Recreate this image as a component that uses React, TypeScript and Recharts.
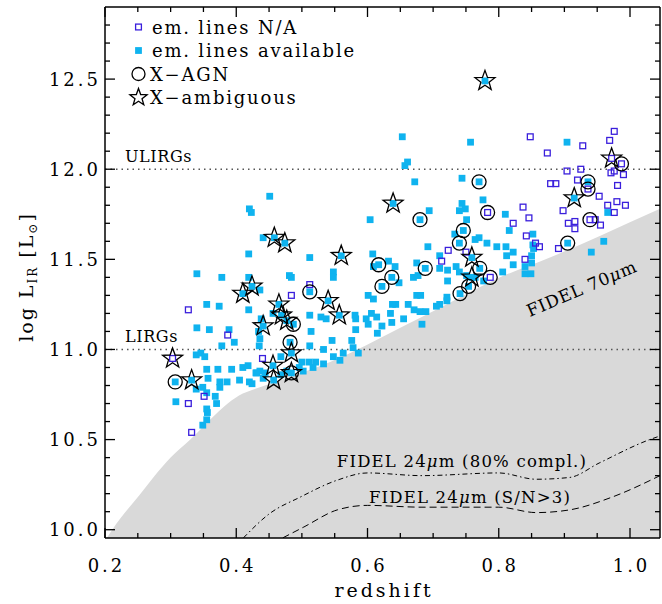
import React from 'react';
import { ComposedChart, Scatter, Area, Line, XAxis, YAxis } from 'recharts';

// ---------- data (redshift z, log L_IR) ----------
const emLinesAvailable: number[][] = [
  [0.307, 10.82], [0.332, 10.83],
  [0.339, 10.97], [0.346, 10.98], [0.352, 10.96], [0.378, 11.02], [0.397, 11.04],
  [0.355, 10.89], [0.357, 10.84], [0.372, 10.89], [0.393, 10.89], [0.41, 10.9], [0.418, 10.91], [0.431, 10.87],
  [0.349, 10.79], [0.339, 10.78], [0.355, 10.76], [0.375, 10.82], [0.386, 10.82], [0.375, 10.79], [0.405, 10.83], [0.42, 10.82], [0.368, 10.74],
  [0.308, 10.71],
  [0.37, 10.7], [0.355, 10.67], [0.356, 10.65], [0.355, 10.61], [0.349, 10.58],
  [0.34, 11.12], [0.359, 11.11], [0.389, 11.11],
  [0.441, 11.13], [0.477, 11.16], [0.434, 11.1],
  [0.436, 11.06], [0.435, 11.02],
  [0.482, 11.04], [0.484, 10.98],
  [0.514, 11.1], [0.512, 11.02], [0.533, 11.0],
  [0.468, 10.96],
  [0.456, 10.91], [0.457, 10.83], [0.484, 10.87],
  [0.5, 10.93], [0.511, 10.93], [0.521, 10.93], [0.533, 10.92],
  [0.502, 10.88],
  [0.436, 10.88], [0.444, 10.87], [0.43, 10.87],
  [0.424, 10.81], [0.441, 10.84], [0.468, 10.86], [0.477, 10.88],
  [0.451, 11.85], [0.42, 11.78], [0.423, 11.76],
  [0.458, 11.62], [0.474, 11.59], [0.441, 11.62],
  [0.419, 11.53], [0.512, 11.51],
  [0.34, 11.42], [0.378, 11.4], [0.419, 11.4], [0.481, 11.41], [0.484, 11.4],
  [0.424, 11.35], [0.41, 11.31], [0.436, 11.33],
  [0.512, 11.32],
  [0.355, 11.25], [0.374, 11.24],
  [0.465, 11.25], [0.419, 11.22],
  [0.512, 11.19], [0.529, 11.18], [0.537, 11.17],
  [0.438, 11.17], [0.469, 11.19], [0.54, 11.27],
  [0.601, 11.3], [0.609, 11.28],
  [0.557, 11.19], [0.456, 11.2], [0.487, 11.14],
  [0.581, 11.19], [0.582, 11.17], [0.598, 11.17], [0.606, 11.2], [0.614, 11.18],
  [0.582, 11.11], [0.615, 11.09], [0.601, 11.14],
  [0.546, 11.05], [0.576, 11.05],
  [0.578, 11.01], [0.586, 10.98], [0.563, 10.98],
  [0.548, 10.96], [0.558, 10.94],
  [0.496, 10.9], [0.517, 10.9],
  [0.653, 12.18], [0.757, 12.15],
  [0.661, 12.04], [0.657, 12.02],
  [0.672, 11.93], [0.77, 11.93], [0.744, 11.95],
  [0.776, 11.83], [0.744, 11.81], [0.749, 11.78], [0.74, 11.77], [0.751, 11.72],
  [0.639, 11.81], [0.694, 11.77], [0.68, 11.72], [0.604, 11.72],
  [0.746, 11.66], [0.74, 11.59],
  [0.733, 11.64], [0.764, 11.61], [0.77, 11.62], [0.782, 11.59], [0.797, 11.57],
  [0.692, 11.57], [0.71, 11.52], [0.759, 11.51], [0.608, 11.53], [0.56, 11.52],
  [0.617, 11.47], [0.637, 11.4], [0.622, 11.35],
  [0.632, 11.49], [0.642, 11.46], [0.609, 11.46],
  [0.675, 11.48], [0.688, 11.45],
  [0.548, 11.43], [0.548, 11.4],
  [0.67, 11.4], [0.677, 11.41],
  [0.71, 11.45], [0.722, 11.44], [0.735, 11.46],
  [0.74, 11.43], [0.751, 11.41], [0.764, 11.4],
  [0.771, 11.45], [0.759, 11.4],
  [0.722, 11.38], [0.648, 11.37],
  [0.754, 11.35], [0.741, 11.31],
  [0.777, 11.38],
  [0.721, 11.29], [0.721, 11.27], [0.71, 11.25], [0.705, 11.24],
  [0.675, 11.3], [0.681, 11.3],
  [0.643, 11.25], [0.638, 11.25], [0.662, 11.25],
  [0.671, 11.22], [0.68, 11.21], [0.689, 11.21],
  [0.635, 11.2], [0.655, 11.17], [0.637, 11.15],
  [0.683, 11.14], [0.622, 11.13],
  [0.904, 12.15], [0.936, 11.93], [0.915, 11.84], [0.966, 11.76], [0.81, 11.75], [0.816, 11.66],
  [0.852, 11.64], [0.96, 11.6], [0.905, 11.59], [0.852, 11.58], [0.853, 11.56], [0.941, 11.54],
  [0.811, 11.57], [0.812, 11.52], [0.822, 11.54], [0.822, 11.47], [0.85, 11.52], [0.85, 11.48],
  [0.84, 11.46], [0.84, 11.42], [0.849, 11.42], [0.806, 11.43],
  [0.779, 12.49],
];

const emLinesNA: number[][] = [
  [0.303, 10.95], [0.327, 10.7], [0.351, 10.74], [0.332, 10.54], [0.387, 11.08], [0.44, 10.95],
  [0.512, 11.36], [0.484, 11.3], [0.327, 11.22],
  [0.783, 11.76], [0.723, 11.55], [0.713, 11.49], [0.75, 11.54],
  [0.848, 12.18], [0.928, 12.13], [0.874, 12.09], [0.976, 12.21], [0.969, 12.16],
  [0.972, 12.06], [0.987, 12.03],
  [0.976, 11.99], [0.971, 11.98], [0.99, 11.97],
  [0.904, 11.99], [0.925, 12.0],
  [0.92, 11.94], [0.936, 11.89],
  [0.879, 11.92], [0.887, 11.92],
  [0.981, 11.91], [0.953, 11.85],
  [0.98, 11.82], [0.966, 11.8], [0.993, 11.8],
  [0.837, 11.79], [0.898, 11.77], [0.976, 11.76], [0.846, 11.73],
  [0.939, 11.72], [0.947, 11.72],
  [0.916, 11.71], [0.906, 11.7], [0.955, 11.69], [0.822, 11.7], [0.916, 11.67], [0.842, 11.63],
  [0.856, 11.59], [0.862, 11.57], [0.891, 11.56],
  [0.84, 11.5], [0.787, 11.4],
];

const xAGN: number[][] = [
  [0.307, 10.82], [0.482, 11.04], [0.484, 10.87], [0.487, 11.14], [0.512, 11.32], [0.77, 11.93],
  [0.783, 11.76], [0.68, 11.72], [0.746, 11.66], [0.74, 11.59], [0.617, 11.47], [0.637, 11.4],
  [0.622, 11.35], [0.688, 11.45], [0.771, 11.45], [0.787, 11.4], [0.754, 11.35], [0.741, 11.31],
  [0.987, 12.03], [0.936, 11.93], [0.936, 11.89], [0.939, 11.72], [0.905, 11.59],
];

const xAmbiguous: number[][] = [
  [0.303, 10.95], [0.332, 10.83], [0.441, 11.13], [0.477, 11.16], [0.484, 10.98], [0.456, 10.91],
  [0.457, 10.83], [0.484, 10.87], [0.458, 11.62], [0.474, 11.59], [0.424, 11.35], [0.41, 11.31],
  [0.465, 11.25], [0.469, 11.19], [0.54, 11.27], [0.557, 11.19], [0.639, 11.81], [0.759, 11.51],
  [0.759, 11.4], [0.56, 11.52], [0.779, 12.49], [0.915, 11.84], [0.972, 12.06],
];

// detection limit curves
const fidel70Z = [0.203, 0.211, 0.252, 0.3, 0.33, 0.36, 0.387, 0.41, 0.436, 0.471, 0.543, 0.65, 0.726, 0.802, 0.878, 0.954, 1.0457];
const fidel70L = [9.955, 10.0, 10.19, 10.4, 10.5, 10.61, 10.7, 10.755, 10.79, 10.835, 10.93, 11.12, 11.26, 11.4, 11.51, 11.63, 11.78];
const fidel24ComplZ = [0.411, 0.451, 0.497, 0.554, 0.6, 0.683, 0.8, 0.857, 0.908, 0.953, 1.03, 1.0457];
const fidel24ComplL = [9.955, 10.09, 10.18, 10.275, 10.315, 10.3, 10.315, 10.28, 10.29, 10.37, 10.5, 10.52];
const fidel24SnZ = [0.471, 0.503, 0.554, 0.6, 0.683, 0.8, 0.857, 0.908, 0.972, 1.0457];
const fidel24SnL = [9.955, 10.015, 10.11, 10.135, 10.125, 10.125, 10.095, 10.11, 10.18, 10.3];

// LIRG / ULIRG thresholds
const lirgLevel = 11.0;
const ulirgLevel = 12.0;

// ticks
const xTicks = [0.2, 0.25, 0.3, 0.35, 0.4, 0.45, 0.5, 0.55, 0.6, 0.65, 0.7, 0.75, 0.8, 0.85, 0.9, 0.95, 1.0];
const xMajor = [0.2, 0.4, 0.6, 0.8, 1.0];
const yTicks = [10.0, 10.1, 10.2, 10.3, 10.4, 10.5, 10.6, 10.7, 10.8, 10.9, 11.0, 11.1, 11.2, 11.3, 11.4, 11.5, 11.6, 11.7, 11.8, 11.9, 12.0, 12.1, 12.2, 12.3, 12.4, 12.5, 12.6, 12.7, 12.8];
const yMajor = [10.0, 10.5, 11.0, 11.5, 12.0, 12.5];

const X_DOMAIN: [number, number] = [0.2, 1.0457];
const Y_DOMAIN: [number, number] = [9.954, 12.9];

const pts = (a: number[][]) => a.map(([z, L]) => ({ z, L }));
const curve = (zs: number[], ls: number[]) => zs.map((z, i) => ({ z, L: ls[i] }));
const hline = (L: number) => [{ z: X_DOMAIN[0], L }, { z: X_DOMAIN[1], L }];

const FONT = 'DejaVu Serif';
const CYAN = '#0fb3ef';
const VIOLET = '#3a1fdc';
const isMajor = (arr: number[], v: number) => arr.some((m) => Math.abs(m - v) < 1e-6);

const BottomTick = (p: any) => {
  const v = p.payload.value;
  const maj = isMajor(xMajor, v);
  return (
    <g>
      <line x1={p.x} x2={p.x} y1={p.y} y2={p.y - (maj ? 10 : 5)} stroke="#000" strokeWidth={1.3} />
      {maj && (
        <text x={p.x + 1.5} y={p.y + 34} textAnchor="middle" fontFamily={FONT} fontSize={18} letterSpacing={3} fill="#000">
          {v.toFixed(1)}
        </text>
      )}
    </g>
  );
};
const TopTick = (p: any) => {
  const maj = isMajor(xMajor, p.payload.value);
  return <line x1={p.x} x2={p.x} y1={p.y} y2={p.y + (maj ? 10 : 5)} stroke="#000" strokeWidth={1.3} />;
};
const LeftTick = (p: any) => {
  const v = p.payload.value;
  const maj = isMajor(yMajor, v);
  return (
    <g>
      <line x1={p.x} x2={p.x + (maj ? 10 : 5)} y1={p.y} y2={p.y} stroke="#000" strokeWidth={1.3} />
      {maj && (
        <text x={p.x - 4} y={p.y + 6.5} textAnchor="end" fontFamily={FONT} fontSize={18} letterSpacing={3} fill="#000">
          {v.toFixed(1)}
        </text>
      )}
    </g>
  );
};
const RightTick = (p: any) => {
  const maj = isMajor(yMajor, p.payload.value);
  return <line x1={p.x} x2={p.x - (maj ? 10 : 5)} y1={p.y} y2={p.y} stroke="#000" strokeWidth={1.3} />;
};

const starPath = (cx: number, cy: number, R: number, r: number) => {
  let d = '';
  for (let i = 0; i < 10; i++) {
    const rad = i % 2 === 0 ? R : r;
    const a = -Math.PI / 2 + (i * Math.PI) / 5;
    d += (i === 0 ? 'M' : 'L') + (cx + rad * Math.cos(a)).toFixed(2) + ',' + (cy + rad * Math.sin(a)).toFixed(2);
  }
  return d + 'Z';
};

const FilledSq = (p: any) => <rect x={p.cx - 3.4} y={p.cy - 3.4} width={6.8} height={6.8} fill={CYAN} />;
const OpenSq = (p: any) => <rect x={p.cx - 2.9} y={p.cy - 2.9} width={5.8} height={5.8} fill="none" stroke={VIOLET} strokeWidth={1.3} />;
const Circ = (p: any) => <circle cx={p.cx} cy={p.cy} r={7} fill="none" stroke="#000" strokeWidth={1.3} />;
const Star = (p: any) => <path d={starPath(p.cx, p.cy, 10.5, 4.3)} fill="none" stroke="#000" strokeWidth={1.3} />;
const Nothing = () => <g />;

const legendRows = ['em. lines N/A', 'em. lines available', 'X\u2212AGN', 'X\u2212ambiguous'];

const Annotations = () => {
  const rowY = [27, 50.5, 74, 97.5];
  const ix = 138.5;
  return (
    <svg width={662} height={604} style={{ position: 'absolute', left: 0, top: 0, pointerEvents: 'none' }}>
      {/* legend */}
      <rect x={ix - 2.9} y={rowY[0] - 2.9} width={5.8} height={5.8} fill="none" stroke={VIOLET} strokeWidth={1.3} />
      <rect x={ix - 3.4} y={rowY[1] - 3.4} width={6.8} height={6.8} fill={CYAN} />
      <circle cx={ix} cy={rowY[2]} r={6.5} fill="none" stroke="#000" strokeWidth={1.3} />
      <path d={starPath(ix, rowY[3], 9, 3.7)} fill="none" stroke="#000" strokeWidth={1.3} />
      {legendRows.map((t, i) => (
        <text key={t} x={i < 2 ? 152 : 150} y={rowY[i] + 6.5} fontFamily={FONT} fontSize={18} letterSpacing={1.8} fill="#000">
          {t}
        </text>
      ))}
      {/* reference line labels */}
      <text x={125} y={162} fontFamily={FONT} fontSize={16} letterSpacing={0.6} fill="#000">ULIRGs</text>
      <text x={125} y={342} fontFamily={FONT} fontSize={16} letterSpacing={0.6} fill="#000">LIRGs</text>
      {/* curve labels */}
      <text x={462} y={467} textAnchor="middle" fontFamily={FONT} fontSize={16.5} letterSpacing={1.2} fill="#000">
        FIDEL 24<tspan fontStyle="italic">μ</tspan>m (80% compl.)
      </text>
      <text x={470} y={503} textAnchor="middle" fontFamily={FONT} fontSize={16.5} letterSpacing={1.2} fill="#000">
        FIDEL 24<tspan fontStyle="italic">μ</tspan>m (S/N&gt;3)
      </text>
      <text x={584} y={294} textAnchor="middle" fontFamily={FONT} fontSize={17} letterSpacing={0.8} fill="#000" transform="rotate(-23 584 294)">
        FIDEL 70<tspan fontStyle="italic">μ</tspan>m
      </text>
      {/* axis titles */}
      <text x={384} y={597} textAnchor="middle" fontFamily={FONT} fontSize={19} letterSpacing={3} fill="#000">redshift</text>
      <text x={33} y={277} textAnchor="middle" fontFamily={FONT} fontSize={19} letterSpacing={2} fill="#000" transform="rotate(-90 33 277)">
        log L<tspan fontSize={12} dy={4}>IR</tspan>
        <tspan dy={-4}> [L</tspan>
        <tspan fontSize={12} dy={4}>⊙</tspan>
        <tspan dy={-4}>]</tspan>
      </text>
    </svg>
  );
};

const AX = { xAxisId: 'b', yAxisId: 'l' };
const axisLine = { stroke: '#000', strokeWidth: 1.5 };

export default function App() {
  return (
    <div style={{ position: 'absolute', left: 0, top: 0, width: 662, height: 604, background: '#fff' }}>
      <ComposedChart width={662} height={604} margin={{ top: 6, right: 1, bottom: 6, left: 0 }}>
        <XAxis xAxisId="b" dataKey="z" type="number" domain={X_DOMAIN} allowDataOverflow ticks={xTicks} interval={0}
          tickLine={false} tickSize={0} tickMargin={0} height={60} axisLine={axisLine} tick={<BottomTick />} />
        <XAxis xAxisId="t" orientation="top" dataKey="z" type="number" domain={X_DOMAIN} allowDataOverflow ticks={xTicks} interval={0}
          tickLine={false} tickSize={0} tickMargin={0} height={1} axisLine={axisLine} tick={<TopTick />} />
        <YAxis yAxisId="l" dataKey="L" type="number" domain={Y_DOMAIN} allowDataOverflow ticks={yTicks} interval={0}
          tickLine={false} tickSize={0} tickMargin={0} width={105} axisLine={axisLine} tick={<LeftTick />} />
        <YAxis yAxisId="r" orientation="right" dataKey="L" type="number" domain={Y_DOMAIN} allowDataOverflow ticks={yTicks} interval={0}
          tickLine={false} tickSize={0} tickMargin={0} width={1} axisLine={axisLine} tick={<RightTick />} />

        <Area {...AX} data={curve(fidel70Z, fidel70L)} dataKey="L" type="monotone" fill="#d9d9d9" fillOpacity={1} stroke="none" isAnimationActive={false} />
        <Line {...AX} data={curve(fidel24ComplZ, fidel24ComplL)} dataKey="L" type="monotone" stroke="#000" strokeWidth={1} strokeDasharray="5 3 1.5 3" dot={false} isAnimationActive={false} />
        <Line {...AX} data={curve(fidel24SnZ, fidel24SnL)} dataKey="L" type="monotone" stroke="#000" strokeWidth={1} strokeDasharray="7 4" dot={false} isAnimationActive={false} />
        <Line {...AX} data={hline(ulirgLevel)} dataKey="L" type="linear" stroke="#555" strokeWidth={1.4} strokeDasharray="1.5 4" dot={false} isAnimationActive={false} />
        <Line {...AX} data={hline(lirgLevel)} dataKey="L" type="linear" stroke="#555" strokeWidth={1.4} strokeDasharray="1.5 4" dot={false} isAnimationActive={false} />

        <Scatter {...AX} name="em. lines available" data={pts(emLinesAvailable)} dataKey="L" shape={<FilledSq />} isAnimationActive={false} />
        <Scatter {...AX} name="em. lines N/A" data={pts(emLinesNA)} dataKey="L" shape={<OpenSq />} isAnimationActive={false} />
        <Scatter {...AX} name="X-AGN" data={pts(xAGN)} dataKey="L" shape={<Circ />} isAnimationActive={false} />
        <Scatter {...AX} name="X-ambiguous" data={pts(xAmbiguous)} dataKey="L" shape={<Star />} isAnimationActive={false} />
        <Scatter xAxisId="t" yAxisId="r" data={pts(xAmbiguous)} dataKey="L" shape={<Nothing />} isAnimationActive={false} />
      </ComposedChart>
      <Annotations />
    </div>
  );
}
